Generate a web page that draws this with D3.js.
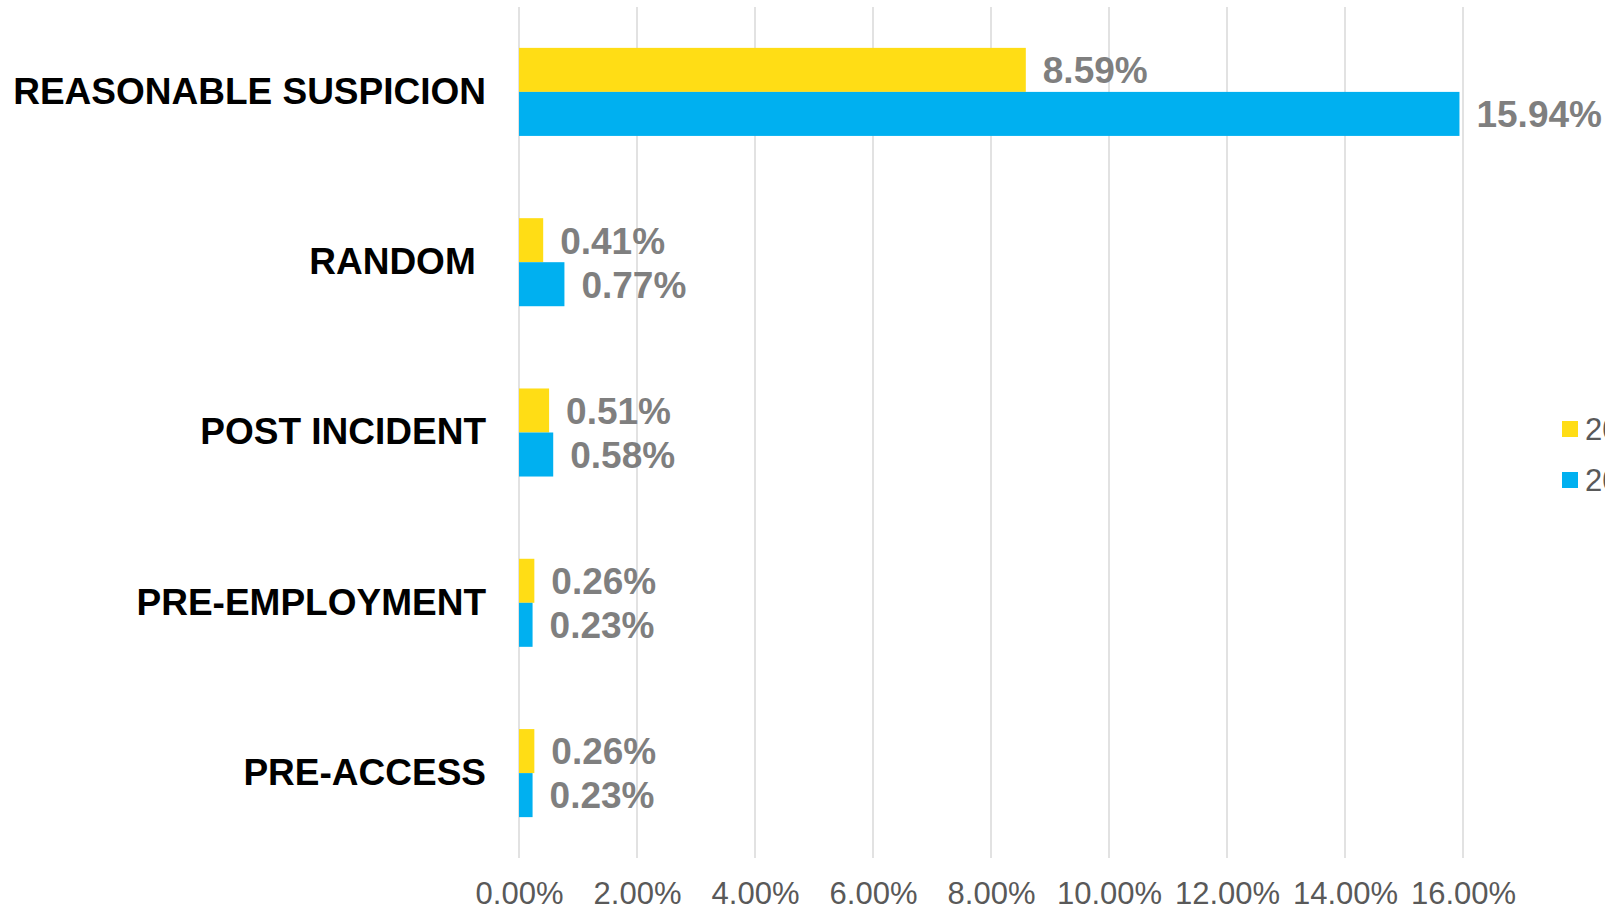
<!DOCTYPE html>
<html>
<head>
<meta charset="utf-8">
<script src="https://cdn.jsdelivr.net/npm/d3@7"></script>
<style>
  html, body { margin: 0; padding: 0; background: #fff; overflow: hidden; }
  svg { display: block; font-family: "Liberation Sans", Arial, sans-serif; }
</style>
</head>
<body>
<div id="chart"></div>
<script>
// categories top to bottom
const categories = ['REASONABLE SUSPICION', 'RANDOM ', 'POST INCIDENT', 'PRE-EMPLOYMENT', 'PRE-ACCESS']
const seriesNames = ['2020', '2021']
const seriesA = [8.59, 0.41, 0.51, 0.26, 0.26]
const seriesB = [15.94, 0.77, 0.58, 0.23, 0.23]
const xTicks = [0, 2, 4, 6, 8, 10, 12, 14, 16]
const colors = ['#FFDD15', '#00B0F0']

const width = 1605, height = 911
const marginTop = 7, marginBottom = 53, marginLeft = 519, plotRight = 1463

const svg = d3.select('#chart').append('svg')
  .attr('width', width)
  .attr('height', height)
  .attr('viewBox', [0, 0, width, height])

const x = d3.scaleLinear()
  .domain([0, 16])
  .range([marginLeft, plotRight])

const y = d3.scaleBand()
  .domain(categories)
  .range([marginTop, height - marginBottom])
  .paddingInner(0.483)
  .paddingOuter(0.24)

const inner = d3.scaleBand()
  .domain(seriesNames)
  .range([0, y.bandwidth()])

// gridlines
svg.append('g')
  .selectAll('line')
  .data(xTicks)
  .join('line')
    .attr('x1', d => x(d)).attr('x2', d => x(d))
    .attr('y1', marginTop).attr('y2', height - marginBottom)
    .attr('stroke', '#e2e2e2')
    .attr('stroke-width', 2)

// x axis labels
const xAxis = svg.append('g')
  .attr('transform', `translate(0,${height - marginBottom})`)
  .call(d3.axisBottom(x).tickValues(xTicks).tickSize(0).tickPadding(24)
    .tickFormat(d => d.toFixed(2) + '%'))
xAxis.select('.domain').remove()
xAxis.selectAll('text')
  .attr('font-size', '31px')
  .attr('fill', '#595959')
  .attr('font-family', '"Liberation Sans", Arial, sans-serif')

// y category labels
const yAxis = svg.append('g')
  .attr('transform', `translate(${marginLeft},0)`)
  .call(d3.axisLeft(y).tickSize(0).tickPadding(33))
yAxis.select('.domain').remove()
yAxis.selectAll('text')
  .attr('font-size', '37px')
  .attr('font-weight', 'bold')
  .attr('fill', '#000')
  .attr('font-family', '"Liberation Sans", Arial, sans-serif')
  .style('white-space', 'pre')

const rows = categories.map((c, i) => [
  { cat: c, key: seriesNames[0], value: seriesA[i], color: colors[0] },
  { cat: c, key: seriesNames[1], value: seriesB[i], color: colors[1] }
]).flat()

// bars
svg.append('g')
  .selectAll('rect')
  .data(rows)
  .join('rect')
    .attr('x', x(0))
    .attr('y', d => y(d.cat) + inner(d.key))
    .attr('width', d => x(d.value) - x(0))
    .attr('height', inner.bandwidth())
    .attr('fill', d => d.color)

// value labels
svg.append('g')
  .selectAll('text')
  .data(rows)
  .join('text')
    .attr('x', d => x(d.value) + 17)
    .attr('y', d => y(d.cat) + inner(d.key) + inner.bandwidth() / 2)
    .attr('dy', '0.36em')
    .attr('font-size', '37px')
    .attr('font-weight', 'bold')
    .attr('fill', '#7f7f7f')
    .text(d => d.value.toFixed(2) + '%')

// legend (runs off the right edge, as in the original)
const legend = svg.append('g')
  .selectAll('g')
  .data(seriesNames)
  .join('g')
    .attr('transform', (d, i) => `translate(1562,${421 + i * 51})`)
legend.append('rect')
  .attr('width', 16).attr('height', 16)
  .attr('fill', (d, i) => colors[i])
legend.append('text')
  .attr('x', 23).attr('y', 8).attr('dy', '0.36em')
  .attr('font-size', '31px')
  .attr('fill', '#595959')
  .text(d => d)
</script>
</body>
</html>
